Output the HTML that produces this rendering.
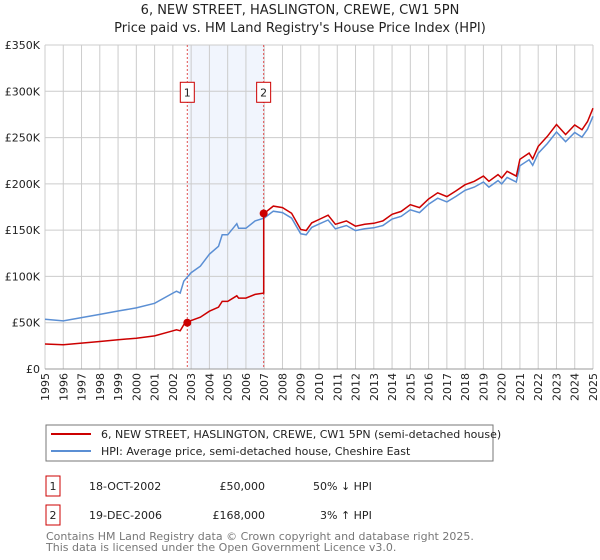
<!DOCTYPE html>
<html><head><meta charset="utf-8"><style>
body{margin:0;background:#fff;font-family:"DejaVu Sans","Liberation Sans",sans-serif;}
svg{display:block}
</style></head><body>
<svg width="600" height="560" xmlns="http://www.w3.org/2000/svg" font-family="DejaVu Sans, Liberation Sans, sans-serif">
<text x="300" y="14" text-anchor="middle" font-size="13" fill="#222">6, NEW STREET, HASLINGTON, CREWE, CW1 5PN</text>
<text x="300" y="32" text-anchor="middle" font-size="13" fill="#222">Price paid vs. HM Land Registry's House Price Index (HPI)</text>
<g id="plot"></g>
<g>
<rect x="46" y="425" width="447" height="36" fill="#fff" stroke="#777"/>
<line x1="51" y1="434" x2="91" y2="434" stroke="#cc0000" stroke-width="2"/>
<text x="101" y="438" font-size="11" fill="#222">6, NEW STREET, HASLINGTON, CREWE, CW1 5PN (semi-detached house)</text>
<line x1="51" y1="451" x2="91" y2="451" stroke="#5b8fd4" stroke-width="2"/>
<text x="101" y="455" font-size="11" fill="#222">HPI: Average price, semi-detached house, Cheshire East</text>
</g>
<g font-size="11" fill="#222">
<rect x="46" y="476" width="14" height="20" fill="#fff" stroke="#cc0000"/>
<text x="53" y="490" text-anchor="middle">1</text>
<text x="89" y="490">18-OCT-2002</text>
<text x="265" y="490" text-anchor="end">£50,000</text>
<text x="313" y="490">50% ↓ HPI</text>
<rect x="46" y="505" width="14" height="20" fill="#fff" stroke="#cc0000"/>
<text x="53" y="519" text-anchor="middle">2</text>
<text x="89" y="519">19-DEC-2006</text>
<text x="265" y="519" text-anchor="end">£168,000</text>
<text x="320" y="519">3% ↑ HPI</text>
</g>
<text x="46" y="540" font-size="11" fill="#777">Contains HM Land Registry data © Crown copyright and database right 2025.</text>
<text x="46" y="551" font-size="11" fill="#777">This data is licensed under the Open Government Licence v3.0.</text>
</svg>
<script>
const hpiYears=[1995,1996,1997,1998,1999,2000,2001,2002,2002.2,2002.4,2002.6,2003,2003.5,2004,2004.5,2004.7,2005,2005.5,2005.6,2006,2006.5,2007,2007.5,2008,2008.5,2009,2009.3,2009.6,2010,2010.5,2010.9,2011.5,2012,2012.5,2013,2013.5,2014,2014.5,2015,2015.5,2016,2016.5,2017,2017.5,2018,2018.5,2019,2019.3,2019.8,2020,2020.3,2020.8,2021,2021.5,2021.7,2022,2022.5,2023,2023.5,2024,2024.4,2024.7,2025];
const hpiValues=[53.7,52,55.5,59,62.7,66,71,82,84,82,95,104,111,124,132.6,145,145,157,152,152,160,163,170.5,169,163,146,145,153,156.5,161,151.5,155,149.5,151.5,152.5,155,162,165,172,169,178,184.5,180.5,186.5,193,196.5,202,196.5,203.5,200,207,202,219.5,226,220,233,243.5,256,245.5,255.5,250.5,259,273];
const saleYears=[2002.79,2006.97];
const salePrices=[50,168];
const yTicks=[0,50,100,150,200,250,300,350];
const yTickLabels=["£0","£50K","£100K","£150K","£200K","£250K","£300K","£350K"];
const xTicks=[1995,1996,1997,1998,1999,2000,2001,2002,2003,2004,2005,2006,2007,2008,2009,2010,2011,2012,2013,2014,2015,2016,2017,2018,2019,2020,2021,2022,2023,2024,2025];

const NS="http://www.w3.org/2000/svg";
const L=45,R=593,T=45,B=369;
const xS=y=>L+(y-1995)/30*(R-L);
const yS=v=>B-v/350*(B-T);
const g=document.getElementById('plot');
function mk(t,a){const e=document.createElementNS(NS,t);for(const k in a)e.setAttribute(k,a[k]);g.appendChild(e);return e;}
function hpiAt(t){for(let i=1;i<hpiYears.length;i++){if(t<=hpiYears[i]){const f=(t-hpiYears[i-1])/(hpiYears[i]-hpiYears[i-1]);return hpiValues[i-1]+f*(hpiValues[i]-hpiValues[i-1]);}}return hpiValues[hpiValues.length-1];}
const sh=mk('rect',{x:xS(saleYears[0])+1,y:T,width:xS(saleYears[1])-xS(saleYears[0])-1,height:B-T,fill:'#eef3fc',opacity:0.8});


xTicks.forEach(t=>{const l=mk('line',{x1:xS(t),x2:xS(t),y1:T,y2:B,stroke:'#ccc','stroke-width':1});


const tx=mk('text',{x:0,y:0,'font-size':11,fill:'#222','text-anchor':'end',transform:`translate(${xS(t)+4},${B+4}) rotate(-90)`});tx.textContent=t;

});
yTicks.forEach((v,i)=>{const l=mk('line',{x1:L,x2:R,y1:yS(v),y2:yS(v),stroke:'#ccc','stroke-width':1});


const tx=mk('text',{x:L-5,y:yS(v)+4,'font-size':11,fill:'#222','text-anchor':'end'});tx.textContent=yTickLabels[i];

});
saleYears.forEach((s,i)=>{const l=mk('line',{x1:xS(s),x2:xS(s),y1:T,y2:B,stroke:'#e05050','stroke-width':1,'stroke-dasharray':'2,2'});


const r=mk('rect',{x:xS(s)-7,y:yS(300)-9,width:14,height:20,fill:'#fff',stroke:'#cc0000'});


const t=mk('text',{x:xS(s),y:yS(300)+5,'font-size':11,'text-anchor':'middle',fill:'#222'});t.textContent=i+1;});
let d=hpiYears.map((y,i)=>(i?'L':'M')+xS(y).toFixed(1)+','+yS(hpiValues[i]).toFixed(1)).join('');
const hp=mk('path',{d:d,fill:'none',stroke:'#5b8fd4','stroke-width':1.5});


let pts=[];const r0=salePrices[0]/hpiAt(saleYears[0]),r1=salePrices[1]/hpiAt(saleYears[1]);
hpiYears.forEach((y,i)=>{if(y<saleYears[1])pts.push([y,hpiValues[i]*r0]);});
pts.push([saleYears[0],salePrices[0]]);pts.sort((a,b)=>a[0]-b[0]);
pts.push([saleYears[1],hpiAt(saleYears[1])*r0]);pts.push([saleYears[1],salePrices[1]]);
hpiYears.forEach((y,i)=>{if(y>saleYears[1])pts.push([y,hpiValues[i]*r1]);});
d=pts.map((p,i)=>(i?'L':'M')+xS(p[0]).toFixed(1)+','+yS(p[1]).toFixed(1)).join('');
const pp=mk('path',{d:d,fill:'none',stroke:'#cc0000','stroke-width':1.5});


saleYears.forEach((s,i)=>{const c=mk('circle',{cx:xS(s),cy:yS(salePrices[i]),r:4,fill:'#cc0000'});

});
const ax=mk('line',{x1:L,x2:R,y1:B,y2:B,stroke:'#999'});


</script>
</body></html>
